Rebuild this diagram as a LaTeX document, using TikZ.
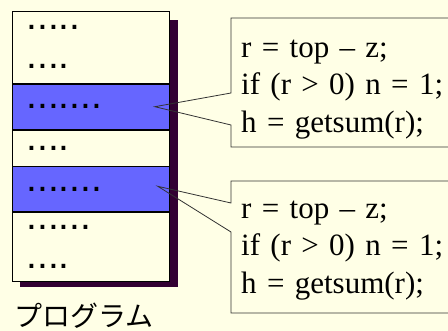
\documentclass[tikz,border=0pt]{standalone}
\usepackage{fontspec}
\setmainfont{Liberation Serif}
\newfontfamily\codefamily{Liberation Serif}[WordSpace=0.78]
\newfontfamily\dotfont{Liberation Sans}
\newfontfamily\jpfont{Noto Sans CJK JP}
\usetikzlibrary{positioning}
\definecolor{paper}{HTML}{FFFFE6}
\definecolor{rowblue}{HTML}{6666FF}
\definecolor{shadowpurple}{HTML}{330033}
\tikzset{
  prog row/.style={
    draw=black,
    line width=0.8pt,
    fill=paper,
    inner xsep=14pt,
    text width=129pt,
    align=left,
    font=\dotfont\fontsize{39}{39}\selectfont
  },
  hot row/.style={
    prog row,
    fill=rowblue
  },
  code text/.style={
    anchor=north west,
    inner sep=0pt,
    text width=205pt,
    align=left,
    font=\codefamily\fontsize{31}{37.5}\selectfont
  },
  callout/.style={
    draw=black!80,
    line width=0.8pt
  }
}

\begin{document}
\begin{tikzpicture}[x=1pt, y=-1pt]

  %% ---- background ----
  \fill[paper] (0,0) rectangle (448,331);
  \useasboundingbox (0,0) rectangle (448,331);

  %% ---- program with its shadow ----
  \fill[shadowpurple] (20,20) rectangle (178,287);
  \node[prog row, anchor=north west, minimum height=72pt] (r1) at (12,11) {.....\\....};
  \node[hot row,  below=0pt of r1, minimum height=45pt] (r2) {.......};
  \node[prog row, below=0pt of r2, minimum height=36pt] (r3) {....};
  \node[hot row,  below=0pt of r3, minimum height=45pt] (r4) {.......};
  \node[prog row, below=0pt of r4, minimum height=69pt] (r5) {......\\....};

  \node[font=\jpfont\fontsize{28}{28}\selectfont] (proglabel) at (84,316) {プログラム};

  %% ---- code callouts ----
  \node[code text] (code1) at (241,30.75)
    {\strut r = top – z;\\if (r > 0) n = 1;\\h = getsum(r);};
  \node[code text] (code2) at (241,191.75)
    {\strut r = top – z;\\if (r > 0) n = 1;\\h = getsum(r);};

  % first callout, its wedge pointing into r2
  \coordinate (tip1) at ([xshift=-15pt]r2.east);
  \coordinate (w1a) at (231,93);
  \coordinate (w1b) at (231,125);
  \draw[callout] (470,18) -- (231,18) -- (w1a) -- (tip1) -- (w1b) -- (231,147) -- (470,147);

  % second callout, its wedge pointing into r4
  \coordinate (tip2) at ([xshift=-12pt, yshift=3pt]r4.east);
  \coordinate (w2a) at (231,203);
  \coordinate (w2b) at (231,232);
  \draw[callout] (470,181) -- (231,181) -- (w2a) -- (tip2) -- (w2b) -- (231,313) -- (470,313);

\end{tikzpicture}
\end{document}
